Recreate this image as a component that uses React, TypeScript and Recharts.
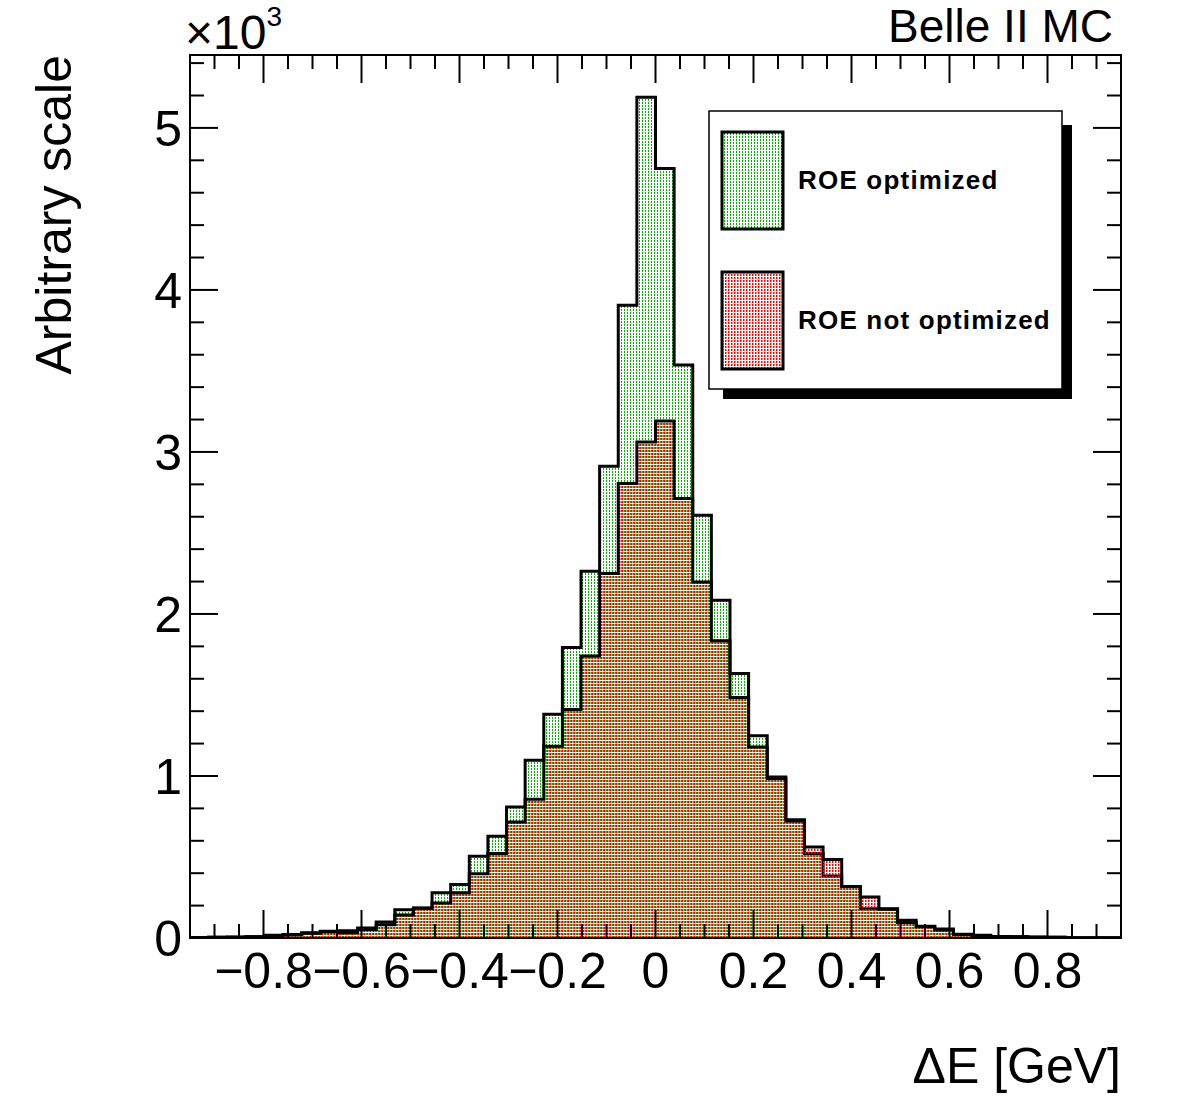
import React from "react";
import { ComposedChart, Area, XAxis, YAxis, Legend } from "recharts";

const W = 1182;
const H = 1117;
// frame of the pad, in pixels
const PLOT = { left: 190, top: 55, right: 1121, bottom: 938 };
const FONT = "'Liberation Sans', Arial, Helvetica, sans-serif";

// ΔE binning
const deLow = -0.95;
const deHigh = 0.95;
const nBins = 50;
const yMax = 5450;

// bin contents, left to right
const roeOptimized = [
  3, 4, 6, 8, 17, 22, 33, 42, 45, 62,
  99, 174, 185, 279, 330, 504, 628, 809, 1097, 1381,
  1793, 2263, 2911, 3906, 5190, 4750, 3537, 2609, 2085, 1632,
  1249, 994, 730, 521, 383, 318, 181, 181, 109, 72,
  56, 23, 17, 9, 7, 6, 4, 2, 2, 1,
];
const roeNotOptimized = [
  3, 4, 5, 7, 15, 20, 30, 38, 32, 53,
  82, 142, 183, 216, 280, 397, 521, 716, 856, 1183,
  1410, 1741, 2249, 2806, 3062, 3191, 2712, 2198, 1835, 1484,
  1179, 985, 722, 562, 485, 318, 253, 178, 95, 70,
  50, 22, 15, 9, 7, 5, 4, 2, 2, 1,
];

const seriesNames = ["ROE optimized", "ROE not optimized"];
const seriesPatterns: Record<string, string> = {
  "ROE optimized": "url(#dotsGreen)",
  "ROE not optimized": "url(#dotsRed)",
};

const xMajorTicks = [-0.8, -0.6, -0.4, -0.2, 0, 0.2, 0.4, 0.6, 0.8];
const yMajorTicks = [0, 1000, 2000, 3000, 4000, 5000];

// minor ticks every 0.05 in x and every 200 in y
const xTicks: number[] = [];
for (let i = -18; i <= 18; i++) xTicks.push(Math.round(i * 5) / 100);
const yTicks: number[] = [];
for (let v = 0; v <= 5400; v += 200) yTicks.push(v);

const binWidth = (deHigh - deLow) / nBins;
const histData = roeOptimized.map((v, i) => ({
  de: deLow + i * binWidth,
  opt: v,
  notOpt: roeNotOptimized[i],
}));
// closing edge so the last step is drawn to the end of the range
histData.push({
  de: deHigh,
  opt: roeOptimized[nBins - 1],
  notOpt: roeNotOptimized[nBins - 1],
});

const near = (a: number, b: number) => Math.abs(a - b) < 1e-6;
const fmtX = (v: number) =>
  near(v, 0) ? "0" : (v < 0 ? "\u2212" : "") + Math.abs(v).toFixed(1);

const XTick = (props: any) => {
  const { x, payload } = props;
  const v = payload.value as number;
  const major = xMajorTicks.some((t) => near(t, v));
  const len = major ? 28 : 14;
  return (
    <g>
      <line x1={x} x2={x} y1={PLOT.bottom} y2={PLOT.bottom - len} stroke="#000" strokeWidth={2} />
      <line x1={x} x2={x} y1={PLOT.top} y2={PLOT.top + len} stroke="#000" strokeWidth={2} />
      {major && (
        <text x={x} y={PLOT.bottom + 50} textAnchor="middle" fontFamily={FONT} fontSize={50} fill="#000">
          {fmtX(v)}
        </text>
      )}
    </g>
  );
};

const YTick = (props: any) => {
  const { y, payload } = props;
  const v = payload.value as number;
  const major = yMajorTicks.includes(v);
  const len = major ? 28 : 14;
  return (
    <g>
      <line x1={PLOT.left} x2={PLOT.left + len} y1={y} y2={y} stroke="#000" strokeWidth={2} />
      <line x1={PLOT.right} x2={PLOT.right - len} y1={y} y2={y} stroke="#000" strokeWidth={2} />
      {major && (
        <text x={PLOT.left - 8} y={y + 18} textAnchor="end" fontFamily={FONT} fontSize={50} fill="#000">
          {v / 1000}
        </text>
      )}
    </g>
  );
};

// boxed legend with drop shadow, entries kept in drawing order
const LEG = { left: 700, top: 100 };
const renderLegend = (props: any) => {
  const items = ((props.payload || []) as any[])
    .slice()
    .sort((a, b) => seriesNames.indexOf(a.value) - seriesNames.indexOf(b.value));
  return (
    <svg width={390} height={310} style={{ display: "block" }}>
      <rect x={23} y={25} width={349} height={274} fill="#000" />
      <rect x={9} y={11} width={353} height={278} fill="#fff" stroke="#000" strokeWidth={1.5} />
      {items.map((it, i) => {
        const top = 32 + i * 140;
        return (
          <g key={it.value}>
            <rect
              x={22}
              y={top}
              width={61}
              height={97}
              fill={seriesPatterns[it.value]}
              stroke="#000"
              strokeWidth={3}
            />
            <text
              x={98}
              y={top + 57}
              fontFamily={FONT}
              fontWeight="bold"
              fontSize={26}
              letterSpacing={1.2}
              fill="#000"
            >
              {it.value}
            </text>
          </g>
        );
      })}
    </svg>
  );
};

export default function App() {
  return (
    <div style={{ position: "absolute", left: 0, top: 0, width: W, height: H, background: "#fff" }}>
      <ComposedChart
        width={W}
        height={H}
        data={histData}
        margin={{ top: PLOT.top, left: PLOT.left - 1, right: W - PLOT.right, bottom: H - PLOT.bottom - 1 }}
      >
        <defs>
          <pattern id="dotsGreen" patternUnits="userSpaceOnUse" width={3} height={3}>
            <rect x={0} y={0} width={1} height={2} fill="#00b400" />
          </pattern>
          <pattern id="dotsRed" patternUnits="userSpaceOnUse" width={3} height={3}>
            <rect x={1} y={0} width={1.5} height={2} fill="#ff0000" />
          </pattern>
        </defs>
        <Area
          xAxisId="x"
          yAxisId="y"
          type="stepAfter"
          dataKey="opt"
          name={seriesNames[0]}
          stroke="#000"
          strokeWidth={3}
          strokeLinejoin="miter"
          fill="url(#dotsGreen)"
          fillOpacity={1}
          dot={false}
          activeDot={false}
          isAnimationActive={false}
        />
        <Area
          xAxisId="x"
          yAxisId="y"
          type="stepAfter"
          dataKey="notOpt"
          name={seriesNames[1]}
          stroke="#000"
          strokeWidth={3}
          strokeLinejoin="miter"
          fill="url(#dotsRed)"
          fillOpacity={1}
          dot={false}
          activeDot={false}
          isAnimationActive={false}
        />
        <XAxis
          xAxisId="x"
          type="number"
          dataKey="de"
          domain={[deLow, deHigh]}
          ticks={xTicks}
          interval={0}
          tick={(p: any) => <XTick {...p} />}
          tickLine={false}
          axisLine={false}
          tickSize={0}
          tickMargin={0}
          height={1}
          allowDataOverflow
        />
        <YAxis
          yAxisId="y"
          type="number"
          domain={[0, yMax]}
          ticks={yTicks}
          interval={0}
          tick={(p: any) => <YTick {...p} />}
          tickLine={false}
          axisLine={false}
          tickSize={0}
          tickMargin={0}
          width={1}
          allowDataOverflow
        />
        <Legend
          layout="horizontal"
          verticalAlign="middle"
          align="center"
          content={renderLegend}
          wrapperStyle={{ left: LEG.left, top: LEG.top, width: 390, height: 310 }}
        />
      </ComposedChart>
      <svg
        width={W}
        height={H}
        style={{ position: "absolute", left: 0, top: 0, pointerEvents: "none" }}
      >
        <rect
          x={PLOT.left}
          y={PLOT.top}
          width={PLOT.right - PLOT.left}
          height={PLOT.bottom - PLOT.top}
          fill="none"
          stroke="#000"
          strokeWidth={2}
        />
        {/* axis exponent, ×10³ */}
        <text x={185} y={49} fontFamily={FONT} fontSize={48} fill="#000">
          {"\u00d710"}
          <tspan fontSize={28} dy={-23}>3</tspan>
        </text>
        <text x={1113} y={42} textAnchor="end" fontFamily={FONT} fontSize={46} fill="#000">
          Belle II MC
        </text>
        <text
          transform="translate(70.5, 55) rotate(-90)"
          textAnchor="end"
          fontFamily={FONT}
          fontSize={50}
          fill="#000"
        >
          Arbitrary scale
        </text>
        <text x={1121} y={1083} textAnchor="end" fontFamily={FONT} fontSize={50} fill="#000">
          {"\u0394E [GeV]"}
        </text>
      </svg>
    </div>
  );
}
